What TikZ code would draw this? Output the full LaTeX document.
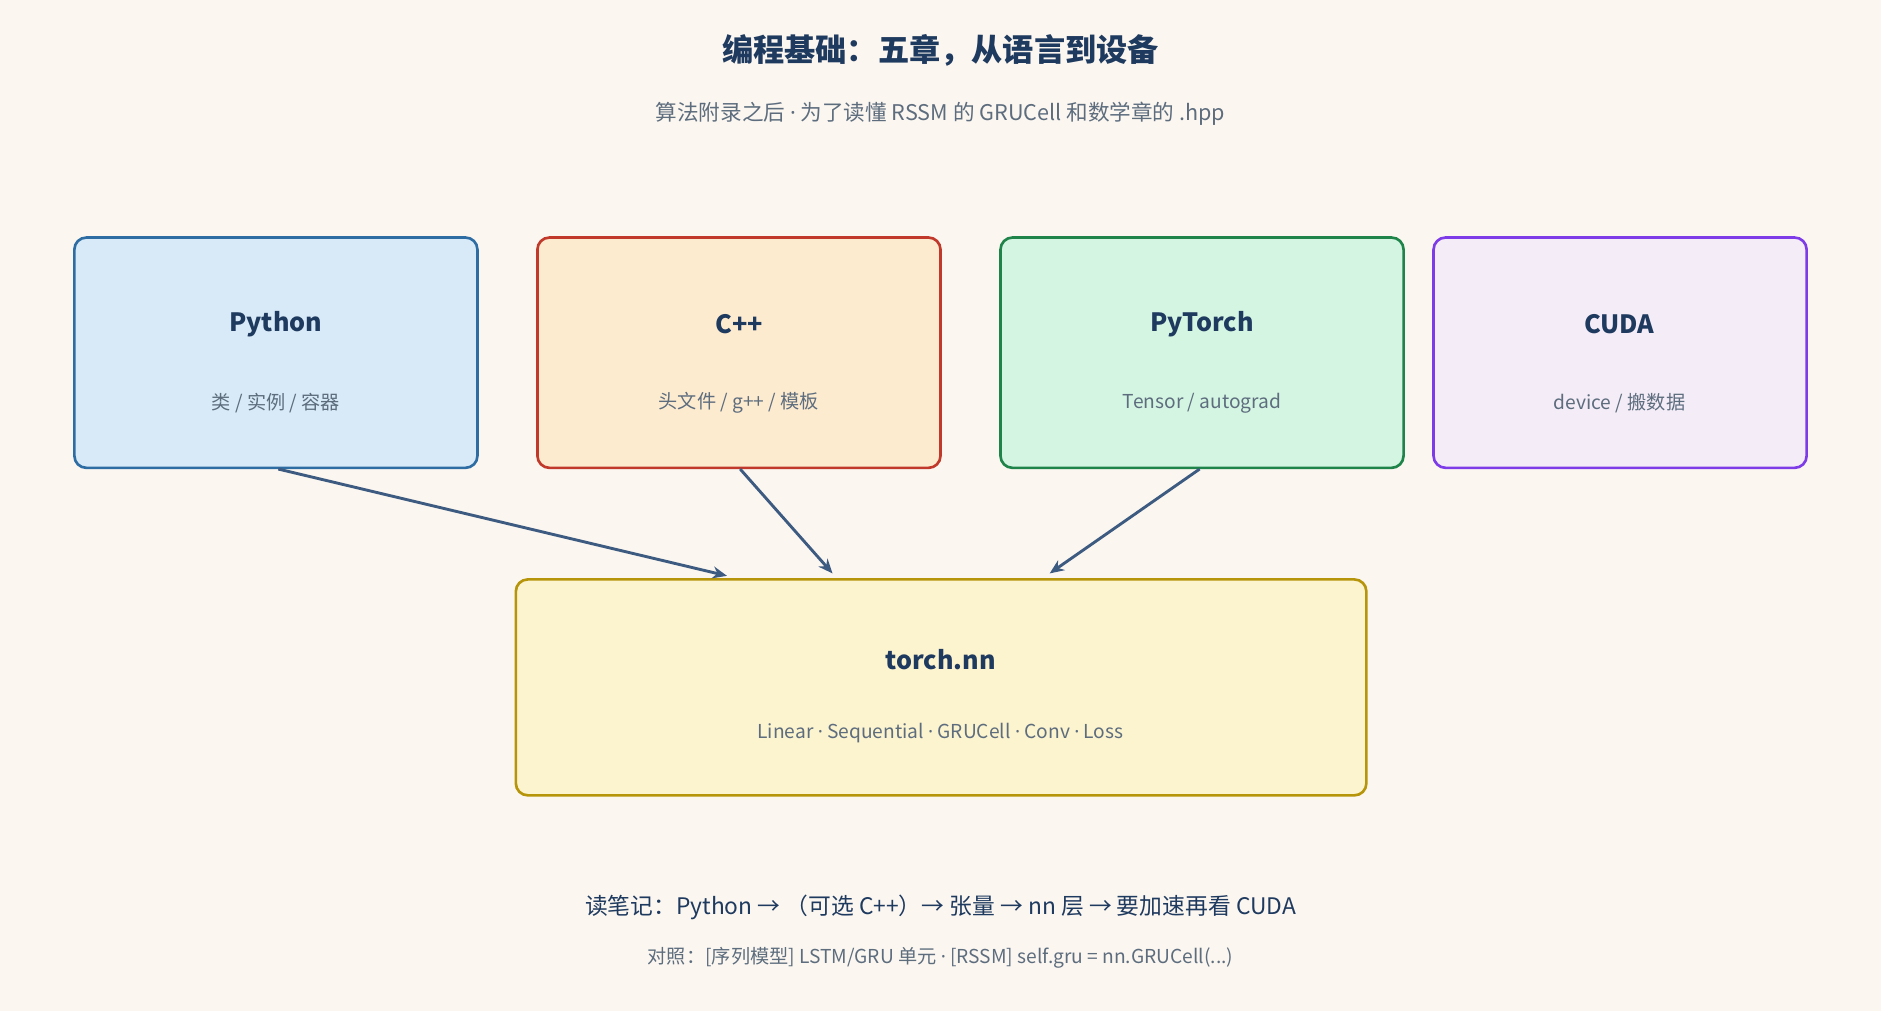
\documentclass[tikz,border=0pt]{standalone}
\usepackage{fontspec}
\setmainfont{Noto Sans CJK SC}
\newfontfamily\latinf{Noto Sans}
\newcommand{\md}{{\latinf ·}}
\usetikzlibrary{arrows.meta}
\definecolor{bg}{HTML}{FBF6F0}
\definecolor{navy}{HTML}{1F3A5F}
\definecolor{gr}{HTML}{5D6D7E}
\definecolor{arr}{HTML}{3D5A80}
\begin{document}
\begin{tikzpicture}[x=1pt,y=-1pt,
  box/.style={draw=#1, line width=2.2pt, rounded corners=10pt},
  ttl/.style={text=navy,font=\fontsize{21}{24}\selectfont\bfseries},
  sub/.style={text=gr,font=\fontsize{16}{19}\selectfont},
  con/.style={draw=arr,line width=2.4pt,-{Stealth[length=12pt,width=10pt]}}]
\fill[bg] (0,0) rectangle (1568,843);
\useasboundingbox (0,0) rectangle (1568,843);
\node[text=navy,font=\fontsize{26}{30}\selectfont\bfseries] (title) at (784,42) {编程基础：五章，从语言到设备};
\node[text=gr,font=\fontsize{18}{22}\selectfont] (subt) at (784,95) {算法附录之后 \md{} 为了读懂 RSSM 的 GRUCell 和数学章的 .hpp};
\definecolor{f1}{HTML}{D8EAF7}\definecolor{d1}{HTML}{2E6DA4}
\definecolor{f2}{HTML}{FDEBD0}\definecolor{d2}{HTML}{C0392B}
\definecolor{f3}{HTML}{D5F5E3}\definecolor{d3}{HTML}{1E8449}
\definecolor{f4}{HTML}{F4ECF7}\definecolor{d4}{HTML}{7D3CE8}
\definecolor{f5}{HTML}{FCF3CF}\definecolor{d5}{HTML}{B7950B}
\draw[box=d1,fill=f1] (62,198) rectangle (398,390);
\draw[box=d2,fill=f2] (448,198) rectangle (784,390);
\draw[box=d3,fill=f3] (834,198) rectangle (1170,390);
\draw[box=d4,fill=f4] (1195,198) rectangle (1506,390);
\draw[box=d5,fill=f5] (430,483) rectangle (1139,663);
\node[ttl] (py) at (230,270) {Python};
\node[sub] (pys) at (230,336) {类 / 实例 / 容器};
\node[ttl] (cp) at (616,270) {C++};
\node[sub] (cps) at (616,336) {头文件 / g++ / 模板};
\node[ttl] (pt) at (1002,270) {PyTorch};
\node[sub] (pts) at (1002,336) {Tensor / autograd};
\node[ttl] (cu) at (1350,270) {CUDA};
\node[sub] (cus) at (1350,336) {device / 搬数据};
\node[ttl] (nn) at (784,550) {torch.nn};
\node[sub] (nns) at (784,611) {Linear \md{} Sequential \md{} GRUCell \md{} Conv \md{} Loss};
\coordinate (a1) at (232,391); \coordinate (b1) at (606,480);
\coordinate (a2) at (617,391); \coordinate (b2) at (694,478);
\coordinate (a3) at (1000,391); \coordinate (b3) at (875,478);
\draw[con] (a1) -- (b1);
\draw[con] (a2) -- (b2);
\draw[con] (a3) -- (b3);
\node[text=navy,font=\fontsize{19}{23}\selectfont] (f1) at (784,756) {读笔记：Python → （可选 C++）→ 张量 → nn 层 → 要加速再看 CUDA};
\node[text=gr,font=\fontsize{16}{19}\selectfont] (f2) at (784,798) {对照：[序列模型] LSTM/GRU 单元 \md{} [RSSM] self.gru = nn.GRUCell(...)};
\end{tikzpicture}
\end{document}
